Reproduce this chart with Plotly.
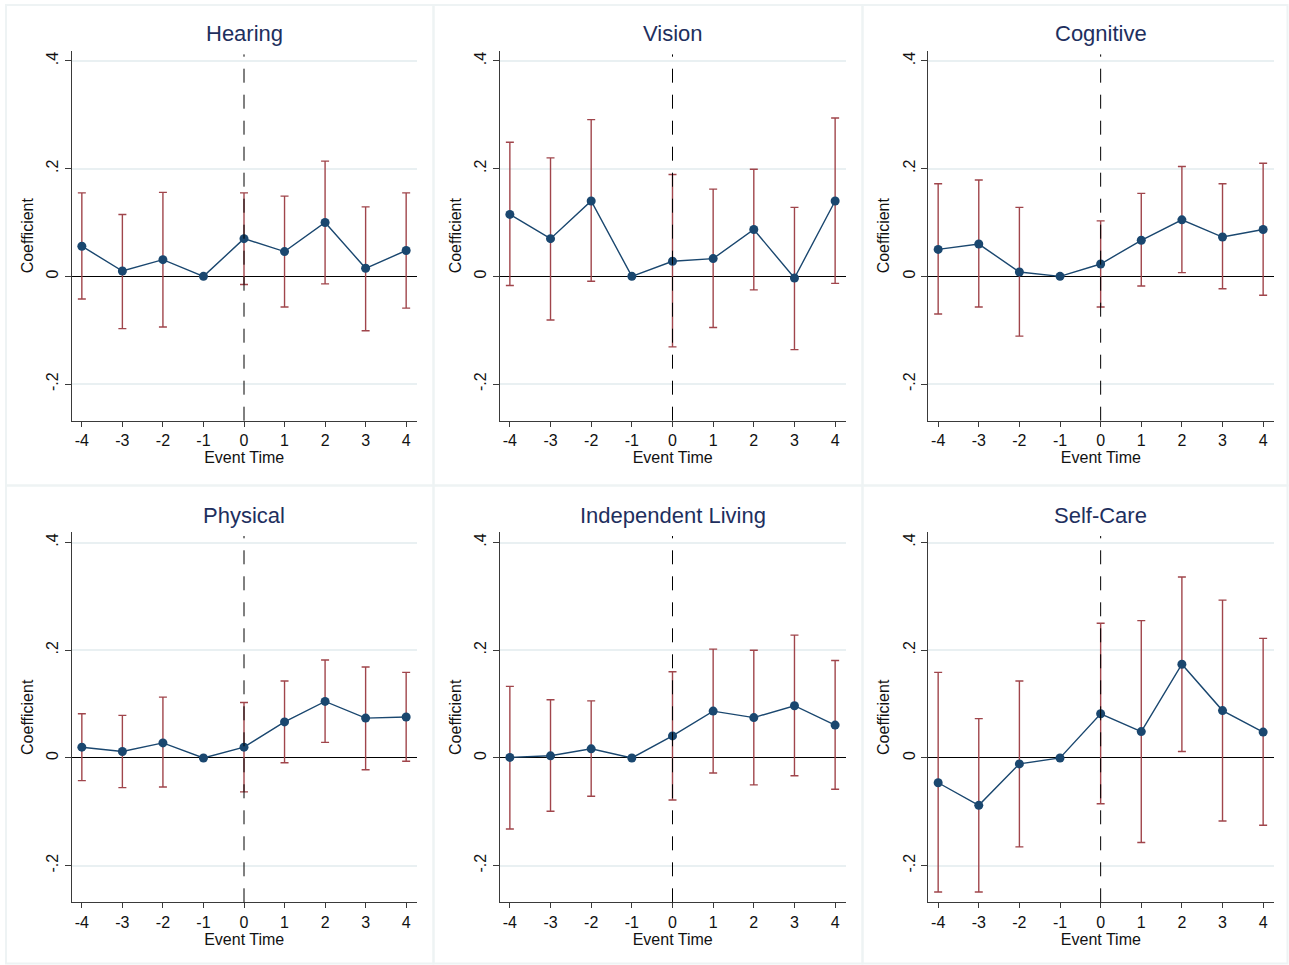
import plotly.graph_objects as go

# Event-study coefficients and 95% confidence bounds by disability type
event_time = [-4, -3, -2, -1, 0, 1, 2, 3, 4]
x_ticktext = ["-4", "-3", "-2", "-1", "0", "1", "2", "3", "4"]
panel_titles = ["Hearing", "Vision", "Cognitive", "Physical", "Independent Living", "Self-Care"]

hearing_coef = [0.056, 0.010, 0.031, 0.0, 0.070, 0.046, 0.100, 0.015, 0.048]
hearing_lo = [-0.042, -0.097, -0.094, None, -0.015, -0.057, -0.014, -0.101, -0.059]
hearing_hi = [0.155, 0.115, 0.156, None, 0.155, 0.149, 0.214, 0.129, 0.155]

vision_coef = [0.115, 0.070, 0.140, 0.0, 0.028, 0.033, 0.087, -0.003, 0.140]
vision_lo = [-0.017, -0.081, -0.009, None, -0.131, -0.095, -0.025, -0.136, -0.013]
vision_hi = [0.249, 0.220, 0.291, None, 0.189, 0.162, 0.199, 0.128, 0.294]

cognitive_coef = [0.050, 0.060, 0.008, 0.0, 0.023, 0.067, 0.105, 0.073, 0.087]
cognitive_lo = [-0.070, -0.057, -0.111, None, -0.057, -0.018, 0.007, -0.023, -0.035]
cognitive_hi = [0.172, 0.179, 0.128, None, 0.103, 0.154, 0.204, 0.172, 0.210]

physical_coef = [0.020, 0.012, 0.028, 0.0, 0.020, 0.067, 0.105, 0.074, 0.076]
physical_lo = [-0.042, -0.055, -0.054, None, -0.063, -0.009, 0.029, -0.022, -0.006]
physical_hi = [0.082, 0.079, 0.113, None, 0.103, 0.143, 0.182, 0.169, 0.159]

indliving_coef = [0.001, 0.004, 0.017, 0.0, 0.041, 0.087, 0.075, 0.097, 0.061]
indliving_lo = [-0.132, -0.099, -0.071, None, -0.078, -0.028, -0.050, -0.033, -0.058]
indliving_hi = [0.133, 0.108, 0.106, None, 0.160, 0.202, 0.200, 0.228, 0.181]

selfcare_coef = [-0.046, -0.088, -0.011, 0.0, 0.082, 0.049, 0.174, 0.088, 0.048]
selfcare_lo = [-0.249, -0.249, -0.165, None, -0.085, -0.157, 0.012, -0.117, -0.125]
selfcare_hi = [0.159, 0.073, 0.143, None, 0.250, 0.255, 0.336, 0.293, 0.222]

y_tickvals = [-0.2, 0, 0.2, 0.4]
y_ticktext = ["-.2", "0", ".2", ".4"]

panels = [
    (hearing_coef, hearing_lo, hearing_hi),
    (vision_coef, vision_lo, vision_hi),
    (cognitive_coef, cognitive_lo, cognitive_hi),
    (physical_coef, physical_lo, physical_hi),
    (indliving_coef, indliving_lo, indliving_hi),
    (selfcare_coef, selfcare_lo, selfcare_hi),
]

W, H = 1289, 965
NAVY = "#1a476f"
MAROON = "#a0454b"
GRID = "#e9f0f2"
AXIS = "#3a3a3a"
TITLE = "#1e2f5e"
FONT = "Liberation Sans, Arial, sans-serif"

# plot-area pixel boxes (left, right) per column and (top, bottom) per row
col_px = [(71.7, 416.7), (499.7, 845.7), (928.0, 1273.7)]
row_px = [(50.7, 420.7), (532.3, 902.3)]
# outer panel frames
frame_x = [(6, 433.5), (433.5, 862.5), (862.5, 1287.5)]
frame_y = [(5, 485.5), (485.5, 963.5)]

fig = go.Figure()
annotations = []
shapes = []

for i, (title, (coef, lo, hi)) in enumerate(zip(panel_titles, panels)):
    r, c = divmod(i, 3)
    n = i + 1
    xa = "x" if n == 1 else f"x{n}"
    ya = "y" if n == 1 else f"y{n}"
    up = [None if h is None else h - v for h, v in zip(hi, coef)]
    dn = [None if l is None else v - l for l, v in zip(lo, coef)]

    fig.add_trace(go.Scatter(
        x=event_time, y=coef, xaxis=xa, yaxis=ya, mode="lines+markers",
        line=dict(color=NAVY, width=1.4),
        marker=dict(color=NAVY, size=9),
        error_y=dict(type="data", symmetric=False, array=up, arrayminus=dn,
                     color=MAROON, thickness=1.4, width=4),
        showlegend=False, hoverinfo="x+y",
    ))

    x0, x1 = col_px[c]
    t, b = row_px[r]
    dom_x = [x0 / W, x1 / W]
    dom_y = [1 - b / H, 1 - t / H]
    xkey = "xaxis" if n == 1 else f"xaxis{n}"
    ykey = "yaxis" if n == 1 else f"yaxis{n}"
    fig.update_layout({
        xkey: dict(
            domain=dom_x, anchor=ya, range=[-4.25, 4.26],
            tickvals=event_time, ticktext=x_ticktext,
            ticks="outside", ticklen=5, tickwidth=1, tickcolor=AXIS,
            showline=True, linecolor=AXIS, linewidth=1.2, showgrid=False, zeroline=False,
            tickfont=dict(family=FONT, size=16, color="#111"),
            title=dict(text="Event Time", font=dict(family=FONT, size=16, color="#111"), standoff=1),
        ),
        ykey: dict(
            domain=dom_y, anchor=xa, range=[-0.268, 0.419],
            tickvals=y_tickvals, ticktext=y_ticktext, tickangle=-90,
            ticks="outside", ticklen=6, tickwidth=1, tickcolor=AXIS,
            showline=True, linecolor=AXIS, linewidth=1.2,
            showgrid=True, gridcolor=GRID, gridwidth=1.5,
            zeroline=True, zerolinecolor="#000", zerolinewidth=1,
            tickfont=dict(family=FONT, size=16, color="#111"),
            title=dict(text="Coefficient", font=dict(family=FONT, size=16, color="#111"), standoff=6),
        ),
    })

    # reference line at the event
    shapes.append(dict(type="line", xref=xa, yref=f"{ya} domain", x0=0, x1=0, y0=0, y1=0.99,
                       line=dict(color="#000", width=1, dash="14px,12px"), layer="above"))
    # panel frame
    fx0, fx1 = frame_x[c]
    fy0, fy1 = frame_y[r]
    shapes.append(dict(type="rect", xref="paper", yref="paper",
                       x0=fx0 / W, x1=fx1 / W, y0=1 - fy1 / H, y1=1 - fy0 / H,
                       line=dict(color="#eef3f4", width=2), layer="below"))

    annotations.append(dict(
        text=title, xref="paper", yref="paper", x=(dom_x[0] + dom_x[1]) / 2,
        y=1 - (33 if r == 0 else 515) / H, xanchor="center", yanchor="middle",
        showarrow=False, font=dict(family=FONT, size=22, color=TITLE),
    ))

fig.update_layout(
    width=W, height=H, margin=dict(l=0, r=0, t=0, b=0),
    paper_bgcolor="white", plot_bgcolor="white",
    annotations=annotations, shapes=shapes,
    font=dict(family=FONT),
)

fig.write_html("out.html")
